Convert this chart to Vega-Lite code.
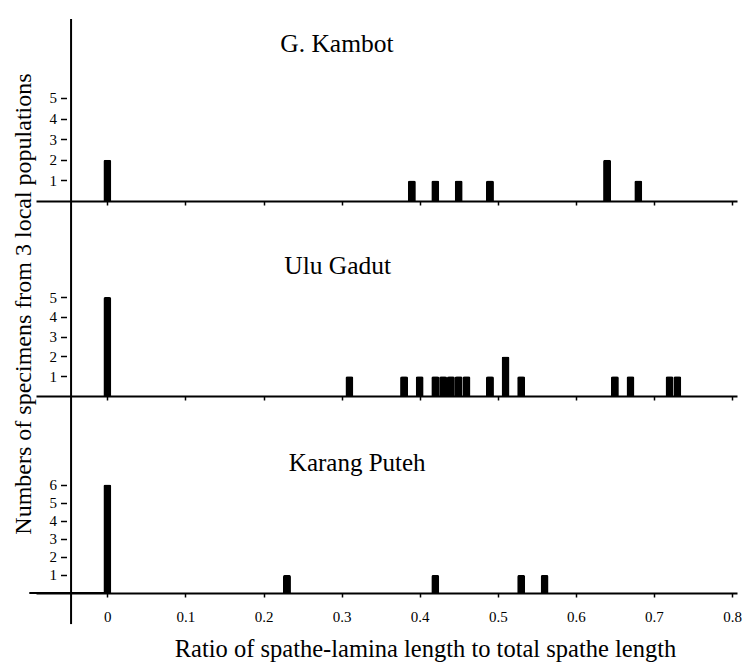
{
  "$schema": "https://vega.github.io/schema/vega-lite/v6.json",
  "padding": {"left": 10, "top": 18, "right": 5, "bottom": 5},
  "bounds": "flush",
  "spacing": 0,
  "background": "white",
  "config": {
    "font": "Liberation Serif",
    "view": {"stroke": null},
    "axis": {
      "labelFont": "Liberation Serif",
      "titleFont": "Liberation Serif",
      "labelColor": "black",
      "titleColor": "black",
      "titleFontWeight": "normal",
      "grid": false,
      "domainColor": "black",
      "tickColor": "black",
      "labelOverlap": false
    },
    "axisY": {
      "offset": -30.5,
      "domain": false,
      "tickSize": 6,
      "tickWidth": 1.5,
      "labelFontSize": 15,
      "labelPadding": 4,
      "labelOverlap": false
    },
    "text": {"font": "Liberation Serif", "color": "black"}
  },
  "datasets": {
    "counts": [
      {"population": "G. Kambot", "ratio": 0, "count": 2},
      {"population": "G. Kambot", "ratio": 0.39, "count": 1},
      {"population": "G. Kambot", "ratio": 0.42, "count": 1},
      {"population": "G. Kambot", "ratio": 0.45, "count": 1},
      {"population": "G. Kambot", "ratio": 0.49, "count": 1},
      {"population": "G. Kambot", "ratio": 0.64, "count": 2},
      {"population": "G. Kambot", "ratio": 0.68, "count": 1},
      {"population": "Ulu Gadut", "ratio": 0, "count": 5},
      {"population": "Ulu Gadut", "ratio": 0.31, "count": 1},
      {"population": "Ulu Gadut", "ratio": 0.38, "count": 1},
      {"population": "Ulu Gadut", "ratio": 0.40, "count": 1},
      {"population": "Ulu Gadut", "ratio": 0.42, "count": 1},
      {"population": "Ulu Gadut", "ratio": 0.43, "count": 1},
      {"population": "Ulu Gadut", "ratio": 0.44, "count": 1},
      {"population": "Ulu Gadut", "ratio": 0.45, "count": 1},
      {"population": "Ulu Gadut", "ratio": 0.46, "count": 1},
      {"population": "Ulu Gadut", "ratio": 0.49, "count": 1},
      {"population": "Ulu Gadut", "ratio": 0.51, "count": 2},
      {"population": "Ulu Gadut", "ratio": 0.53, "count": 1},
      {"population": "Ulu Gadut", "ratio": 0.65, "count": 1},
      {"population": "Ulu Gadut", "ratio": 0.67, "count": 1},
      {"population": "Ulu Gadut", "ratio": 0.72, "count": 1},
      {"population": "Ulu Gadut", "ratio": 0.73, "count": 1},
      {"population": "Karang Puteh", "ratio": 0, "count": 6},
      {"population": "Karang Puteh", "ratio": 0.23, "count": 1},
      {"population": "Karang Puteh", "ratio": 0.42, "count": 1},
      {"population": "Karang Puteh", "ratio": 0.53, "count": 1},
      {"population": "Karang Puteh", "ratio": 0.56, "count": 1}
    ],
    "one": [{}]
  },
  "vconcat": [
    {
      "width": 701,
      "height": 182,
      "layer": [
        {
          "data": {"name": "counts"},
          "transform": [{"filter": "datum.population === 'G. Kambot'"}],
          "mark": {"type": "bar", "width": 8, "color": "black", "cornerRadiusEnd": 2},
          "encoding": {
            "x": {"field": "ratio", "type": "quantitative",
              "scale": {"domain": [-0.085, 0.8], "nice": false, "zero": false},
              "axis": {"values": [0, 0.1, 0.2, 0.3, 0.4, 0.5, 0.6, 0.7, 0.8], "labels": false, "title": null,
                "domainWidth": 2, "tickSize": 4, "tickWidth": 1.5}},
            "y": {"field": "count", "type": "quantitative",
              "scale": {"domain": [0, 8.83], "nice": false},
              "axis": {"values": [1, 2, 3, 4, 5], "labelOverlap": false, "title": null}}
          }
        },
        {
          "data": {"name": "one"},
          "mark": {"type": "rule", "color": "black", "strokeWidth": 2},
          "encoding": {"x": {"datum": -0.0465}, "y": {"datum": 0, "axis": {"values": [1, 2, 3, 4, 5], "labelOverlap": false, "title": null}}, "y2": {"datum": 8.83}}
        },
        {
          "data": {"name": "one"},
          "mark": {"type": "text", "fontSize": 25.5, "align": "center", "baseline": "middle"},
          "encoding": {"x": {"datum": 0.294}, "y": {"datum": 7.62, "axis": {"values": [1, 2, 3, 4, 5], "labelOverlap": false, "title": null}}, "text": {"value": "G. Kambot"}}
        }
      ]
    },
    {
      "width": 701,
      "height": 195,
      "layer": [
        {
          "data": {"name": "counts"},
          "transform": [{"filter": "datum.population === 'Ulu Gadut'"}],
          "mark": {"type": "bar", "width": 8, "color": "black", "cornerRadiusEnd": 2},
          "encoding": {
            "x": {"field": "ratio", "type": "quantitative",
              "scale": {"domain": [-0.085, 0.8], "nice": false, "zero": false},
              "axis": {"values": [0, 0.1, 0.2, 0.3, 0.4, 0.5, 0.6, 0.7, 0.8], "labels": false, "title": null,
                "domainWidth": 2, "tickSize": 4, "tickWidth": 1.5}},
            "y": {"field": "count", "type": "quantitative",
              "scale": {"domain": [0, 9.85], "nice": false},
              "axis": {"values": [1, 2, 3, 4, 5], "labelOverlap": false,
                "title": "Numbers of specimens from 3 local populations",
                "titleFontSize": 24, "titleAngle": 270, "titleAlign": "center", "titleBaseline": "middle",
                "titleX": -43.5, "titleY": 102.5}}
          }
        },
        {
          "data": {"name": "one"},
          "mark": {"type": "rule", "color": "black", "strokeWidth": 2},
          "encoding": {"x": {"datum": -0.0465}, "y": {"datum": 0}, "y2": {"datum": 9.85}}
        },
        {
          "data": {"name": "one"},
          "mark": {"type": "text", "fontSize": 25.5, "align": "center", "baseline": "middle"},
          "encoding": {"x": {"datum": 0.295}, "y": {"datum": 6.57}, "text": {"value": "Ulu Gadut"}}
        }
      ]
    },
    {
      "width": 701,
      "height": 197,
      "layer": [
        {
          "data": {"name": "counts"},
          "transform": [{"filter": "datum.population === 'Karang Puteh'"}],
          "mark": {"type": "bar", "width": 8, "color": "black", "cornerRadiusEnd": 2},
          "encoding": {
            "x": {"field": "ratio", "type": "quantitative",
              "scale": {"domain": [-0.085, 0.8], "nice": false, "zero": false},
              "axis": {"values": [0, 0.1, 0.2, 0.3, 0.4, 0.5, 0.6, 0.7, 0.8], "format": "~g",
                "labelFontSize": 15, "labelPadding": 12, "labelFlush": false,
                "domainWidth": 2, "tickSize": 4, "tickWidth": 1.5,
                "title": "Ratio of spathe-lamina length to total spathe length",
                "titleFontSize": 24.5, "titleAlign": "center", "titleBaseline": "middle",
                "titleX": 389, "titleY": 56}},
            "y": {"field": "count", "type": "quantitative",
              "scale": {"domain": [0, 10.9], "nice": false},
              "axis": {"values": [1, 2, 3, 4, 5, 6], "labelOverlap": false, "title": null}}
          }
        },
        {
          "data": {"name": "one"},
          "mark": {"type": "rule", "color": "black", "strokeWidth": 2},
          "encoding": {"x": {"datum": -0.0465}, "y": {"datum": -1.72, "axis": {"values": [1, 2, 3, 4, 5, 6], "labelOverlap": false, "title": null}}, "y2": {"datum": 10.9}}
        },
        {
          "data": {"name": "one"},
          "mark": {"type": "rule", "color": "black", "strokeWidth": 2},
          "encoding": {"x": {"datum": -0.1}, "x2": {"datum": 0}, "y": {"datum": 0, "axis": {"values": [1, 2, 3, 4, 5, 6], "labelOverlap": false, "title": null}}}
        },
        {
          "data": {"name": "one"},
          "mark": {"type": "text", "fontSize": 25, "align": "center", "baseline": "middle"},
          "encoding": {"x": {"datum": 0.32}, "y": {"datum": 7.17, "axis": {"values": [1, 2, 3, 4, 5, 6], "labelOverlap": false, "title": null}}, "text": {"value": "Karang Puteh"}}
        }
      ]
    }
  ]
}
